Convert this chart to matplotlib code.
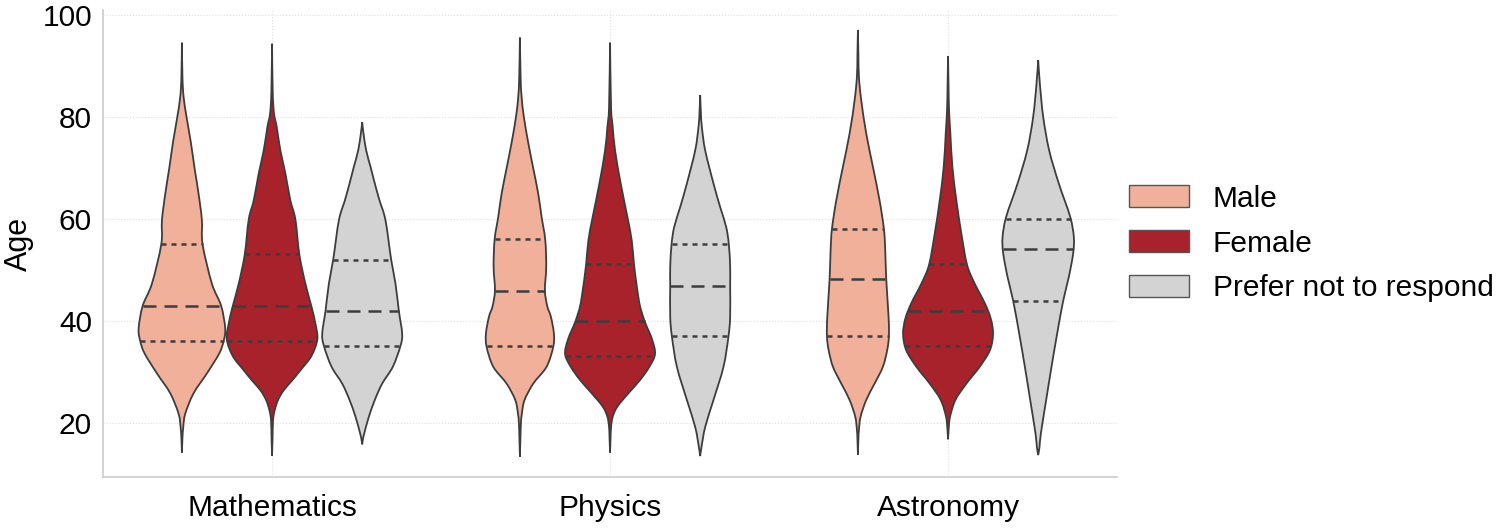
import numpy as np
import matplotlib
matplotlib.use("Agg")
import matplotlib.pyplot as plt
from matplotlib.path import Path
from matplotlib.patches import PathPatch, Patch

plt.rcParams["font.family"] = ["Liberation Sans", "DejaVu Sans"]

SUBJECTS = ["Mathematics", "Physics", "Astronomy"]
GENDERS = ["Male", "Female", "Prefer not to respond"]
COLORS = ["#F1B09A", "#A8222C", "#D3D3D3"]

# quartiles: rows = subject, cols = gender
Q1 = [[36.1, 36.1, 35.2], [35.2, 33.2, 37.1], [37.1, 35.2, 44.0]]
MEDIAN = [[43.0, 43.1, 42.1], [46.0, 40.0, 47.0], [48.3, 42.1, 54.2]]
Q3 = [[55.1, 53.1, 52.1], [56.1, 51.2, 55.1], [58.1, 51.2, 60.0]]

# violin outlines: age levels (bottom -> top) and relative density at each level
MATH_MALE_AGE = [14.3, 17, 19.3, 21.9, 25.9, 29.8, 33.7, 36.1, 38.6, 43.0, 47.4, 55.1, 59.8, 65, 70, 75, 80, 84, 88, 94.6]
MATH_MALE_DEN = [0, 1.5, 4, 10, 35, 75, 112, 125, 130, 118, 90, 62, 60, 50, 38, 27, 14, 5, 1.5, 0]
MATH_FEMALE_AGE = [13.7, 17, 20.6, 22.6, 24.6, 26.5, 28.4, 30.4, 33.2, 36.5, 39.6, 43.0, 47.4, 53.1, 60, 63.7, 69.0, 73.5, 78.1, 80.7, 85, 94.4]
MATH_FEMALE_DEN = [0, 1.5, 3, 8, 18, 35, 60, 85, 118, 136, 130, 118, 100, 82, 70, 55, 40, 25, 14, 6, 2, 0]
MATH_OTHER_AGE = [15.9, 16.8, 18.0, 21.3, 24.6, 27.8, 31.1, 35.2, 37.6, 42.1, 47.4, 52.1, 59.8, 63.7, 67.0, 70.3, 73.5, 76.8, 79.0]
MATH_OTHER_DEN = [0, 2, 6, 20, 38, 60, 92, 115, 120, 110, 100, 87, 70, 52, 38, 25, 12, 4, 0]

PHYS_MALE_AGE = [13.5, 17, 20, 22, 24.6, 27.8, 31.1, 35.0, 37.6, 40.9, 43, 46.1, 50.7, 56.0, 60.5, 65, 70, 75, 80, 84, 88, 95.6]
PHYS_MALE_DEN = [0, 1.5, 3, 6, 14, 40, 80, 100, 102, 93, 82, 75, 79, 76, 65, 55, 40, 25, 12, 5, 2, 0]
PHYS_FEMALE_AGE = [14.3, 17, 19.3, 21.3, 23.3, 25.9, 28.5, 31.1, 33.6, 36.5, 40.0, 43.0, 46.1, 51.1, 55.9, 60.5, 67.0, 73.5, 78.1, 82, 94.6]
PHYS_FEMALE_DEN = [0, 1.5, 3, 8, 22, 55, 90, 118, 135, 126, 104, 90, 82, 72, 65, 52, 32, 15, 8, 3, 0]
PHYS_OTHER_AGE = [13.6, 15.4, 19.3, 24.6, 31.1, 37.1, 40.9, 47.0, 50.7, 55.1, 58.5, 62.4, 67.0, 73.5, 78.1, 81, 84.3]
PHYS_OTHER_DEN = [0, 4, 15, 40, 70, 85, 90, 90, 90, 86, 78, 60, 40, 15, 5, 2, 0]

ASTRO_MALE_AGE = [13.9, 17, 18.7, 21.3, 24.6, 27.8, 31.1, 34.4, 37.1, 40.9, 48.3, 54.0, 58.1, 63.7, 70.3, 76.8, 83.3, 87.9, 92, 97.1]
ASTRO_MALE_DEN = [0, 1.5, 3, 8, 25, 50, 75, 88, 93, 92, 85, 82, 78, 65, 45, 25, 10, 3, 1.5, 0]
ASTRO_FEMALE_AGE = [16.9, 19, 21.3, 24.6, 27.8, 31.1, 34.4, 37.6, 40.6, 43.6, 47.4, 51.1, 57.2, 63.7, 70.3, 76.8, 81.4, 86, 92.0]
ASTRO_FEMALE_DEN = [0, 2, 6, 22, 55, 95, 126, 135, 128, 110, 80, 57, 40, 25, 13, 7, 3, 1.5, 0]
ASTRO_OTHER_AGE = [13.8, 15.4, 18.0, 24.6, 31.1, 37.6, 44.0, 48.7, 53.3, 56.5, 60.5, 67.0, 73.5, 80.1, 86.6, 91.2]
ASTRO_OTHER_DEN = [0, 4, 8, 24, 40, 57, 75, 92, 105, 107, 96, 62, 33, 15, 5, 0]

PROFILES = [
    [(MATH_MALE_AGE, MATH_MALE_DEN), (MATH_FEMALE_AGE, MATH_FEMALE_DEN), (MATH_OTHER_AGE, MATH_OTHER_DEN)],
    [(PHYS_MALE_AGE, PHYS_MALE_DEN), (PHYS_FEMALE_AGE, PHYS_FEMALE_DEN), (PHYS_OTHER_AGE, PHYS_OTHER_DEN)],
    [(ASTRO_MALE_AGE, ASTRO_MALE_DEN), (ASTRO_FEMALE_AGE, ASTRO_FEMALE_DEN), (ASTRO_OTHER_AGE, ASTRO_OTHER_DEN)],
]

EDGE = "#3d3d3d"
MAX_HALF = 0.134          # half width of the widest violin, in x data units
DODGE = 0.8 / 3
DEN_MAX = max(max(d) for row in PROFILES for _, d in row)


def bezier_chain(P):
    # smooth curve through the points (Catmull-Rom -> cubic Bezier)
    n = len(P)
    verts = []
    for i in range(n - 1):
        p0, p1, p2, p3 = P[max(i - 1, 0)], P[i], P[i + 1], P[min(i + 2, n - 1)]
        verts += [p1 + (p2 - p0) / 6, p2 - (p3 - p1) / 6, p2]
    return verts


def draw_violin(ax, center, ages, dens, color):
    ages = np.asarray(ages, float)
    half = np.asarray(dens, float) / DEN_MAX * MAX_HALF
    right = np.column_stack([center + half, ages])
    left = np.column_stack([center - half, ages])[::-1]
    verts = [right[0]] + bezier_chain(right) + bezier_chain(left) + [right[0]]
    codes = [Path.MOVETO] + [Path.CURVE4] * (3 * (len(right) - 1)) * 2 + [Path.CLOSEPOLY]
    ax.add_patch(PathPatch(Path(verts, codes), facecolor=color, edgecolor=EDGE, lw=1.3, zorder=2))
    return ages, half


fig, ax = plt.subplots(figsize=(15, 5.29), dpi=100)
fig.subplots_adjust(left=0.0687, right=0.7447, bottom=0.0983, top=0.981)

for i, subj in enumerate(SUBJECTS):
    for j, g in enumerate(GENDERS):
        c = i + (j - 1) * DODGE
        ages, half = draw_violin(ax, c, PROFILES[i][j][0], PROFILES[i][j][1], COLORS[j])
        for q, dash in [(Q1[i][j], (2.0, 2.0)), (MEDIAN[i][j], (5.2, 3.2)), (Q3[i][j], (2.0, 2.0))]:
            h = np.interp(q, ages, half)
            ax.plot([c - h, c + h], [q, q], color=EDGE, lw=1.8, dashes=dash, zorder=3)

ax.set_xlim(-0.5, 2.5)
ax.set_ylim(9.5, 101)
ax.set_xticks(range(len(SUBJECTS)))
ax.set_xticklabels(SUBJECTS, fontsize=21.5)
ax.set_yticks([20, 40, 60, 80, 100])
ax.tick_params(axis="y", labelsize=21.5, length=0, pad=8)
ax.tick_params(axis="x", length=0, pad=12)
ax.set_ylabel("Age", fontsize=22, labelpad=6)
ax.grid(True, color="#dedede", lw=0.8, ls=":", zorder=0)
ax.set_axisbelow(True)
for s in ["top", "right"]:
    ax.spines[s].set_visible(False)
for s in ["left", "bottom"]:
    ax.spines[s].set_color("#cccccc")
    ax.spines[s].set_linewidth(1.2)

handles = [Patch(facecolor=COLORS[k], edgecolor="#555555", lw=1.0, label=GENDERS[k]) for k in range(3)]
ax.legend(handles=handles, loc="center left", bbox_to_anchor=(1.0, 0.5), frameon=False,
          fontsize=21.5, handlelength=2.0, handleheight=0.75, labelspacing=0.56,
          handletextpad=0.8, borderaxespad=0.0)

fig.savefig("out.png", dpi=100)
